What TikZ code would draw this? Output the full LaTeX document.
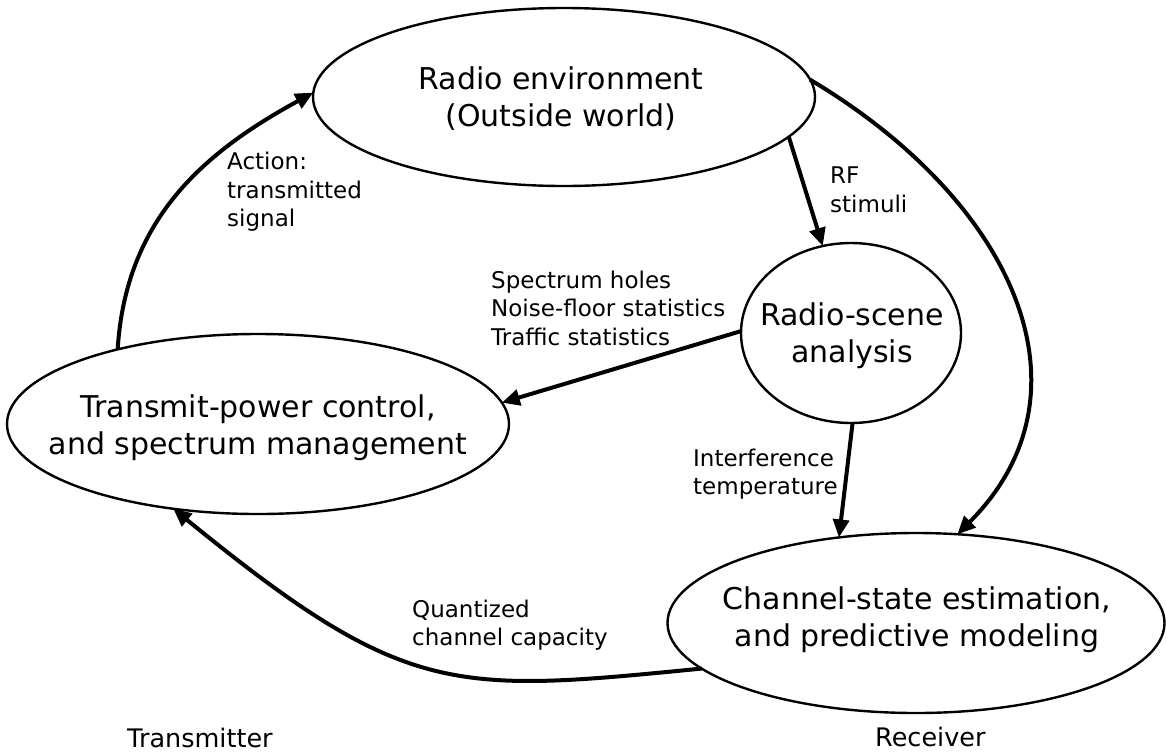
\documentclass[tikz,border=0pt]{standalone}
\usepackage{fontspec}
\setmainfont{DejaVu Sans}
\usetikzlibrary{shapes.geometric,arrows.meta}
\begin{document}
\begin{tikzpicture}[x=1pt,y=-1pt,
  stage/.style={draw, line width=2.4pt, ellipse, inner sep=0pt, outer sep=0pt},
  bigtext/.style={font=\fontsize{30}{37}\selectfont, align=center, inner sep=0pt},
  note/.style={font=\fontsize{23}{28.5}\selectfont, align=left, inner sep=0pt, anchor=west},
  side/.style={font=\fontsize{25.5}{30}\selectfont, inner sep=0pt, anchor=base west},
  flow/.style={line width=4pt, -{Triangle[length=18pt,width=16pt]}}]
\useasboundingbox (0,0) rectangle (1166,753);

% the four stages of the cognitive cycle
\node[stage, minimum width=502pt, minimum height=178pt] (env)  at (564,97)  {};
\node[stage, minimum width=220pt, minimum height=180pt] (scene) at (851,333) {};
\node[stage, minimum width=502pt, minimum height=180pt] (tpc)  at (258,424) {};
\node[stage, minimum width=497pt, minimum height=180pt] (cse)  at (916,623) {};

\node[bigtext] (envtxt)   at (561,99)  {Radio environment\\(Outside world)};
\node[bigtext] (scenetxt) at (852,336) {Radio-scene\\analysis};
\node[bigtext] (tpctxt)   at (258,428) {Transmit-power control,\\and spectrum management};
\node[bigtext] (csetxt)   at (917,620) {Channel-state estimation,\\and predictive modeling};

% connectors
\draw[flow] (tpc.152) .. controls +(8,-130) and +(-110,60) .. (env.179);
\draw[flow] (env.-10.5) -- (scene.108);
\draw[flow] (env.4) .. controls +(206,123) and +(141,-141) .. (cse.65);
\draw[flow] (scene.179) -- (tpc.5);
\draw[flow] (scene.-89) -- (cse.132);
\draw[flow] (cse.192) .. controls +(-249,24.5) and +(232.5,189.5) .. (tpc.-135.5);

% connector labels
\node[note] (lact)  at (227,192) {Action:\\transmitted\\signal};
\node[note] (lrf)   at (830,190) {RF\\stimuli};
\node[note] (lspec) at (491,308) {Spectrum holes\\Noise-floor statistics\\Traffic statistics};
\node[note] (lint)  at (693,474) {Interference\\temperature};
\node[note] (lcap)  at (412,625) {Quantized\\channel capacity};

% sides of the link
\node[side] (ltx) at (127,747) {Transmitter};
\node[side] (lrx) at (875,746) {Receiver};
\end{tikzpicture}
\end{document}
